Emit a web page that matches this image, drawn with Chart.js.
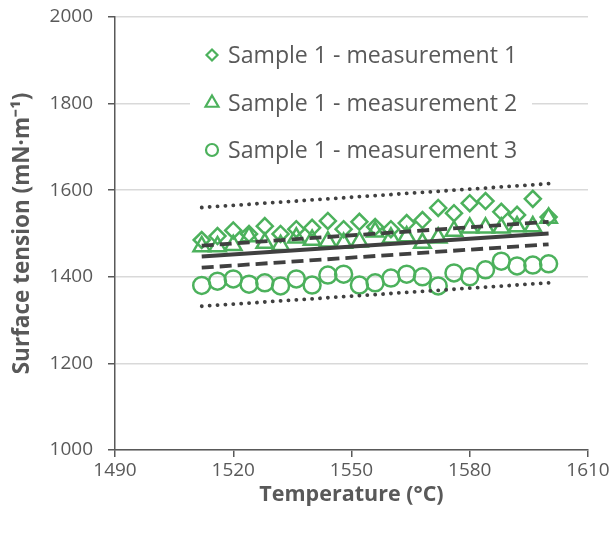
<!DOCTYPE html>
<html>
<head>
<meta charset="utf-8">
<script src="https://cdn.jsdelivr.net/npm/chart.js@4"></script>
<style>
  html, body { margin: 0; padding: 0; background: #fff; }
  #wrap { width: 615px; height: 536px; }
</style>
</head>
<body>
<div id="wrap"><canvas id="myChart" width="615" height="536"></canvas></div>
<script>
// temperatures (°C)
const temps = [1512, 1516, 1520, 1524, 1528, 1532, 1536, 1540, 1544, 1548, 1552, 1556,
               1560, 1564, 1568, 1572, 1576, 1580, 1584, 1588, 1592, 1596, 1600];

// surface tension (mN/m)
const meas1 = [1485, 1494, 1507, 1499, 1517, 1499, 1510, 1513, 1529, 1510, 1527, 1515,
               1510, 1524, 1531, 1559, 1547, 1570, 1575, 1550, 1543, 1580, 1538];
const meas2 = [1470, 1470, 1473, 1493, 1478, 1473, 1490, 1485, 1481, 1478, 1481, 1504,
               1490, 1493, 1478, 1490, 1506, 1513, 1513, 1513, 1516, 1516, 1536];
const meas3 = [1380, 1390, 1395, 1383, 1386, 1379, 1395, 1381, 1404, 1406, 1381, 1386,
               1397, 1406, 1400, 1379, 1409, 1400, 1416, 1436, 1425, 1427, 1430];

// fit line and bands (end points)
const fitT = [1512, 1600];
const fitLine = [1447, 1500];
const confUpper = [1472, 1527];
const confLower = [1421, 1475];
const predUpper = [1560, 1615];
const predLower = [1332, 1386];

const xTicks = [1490, 1520, 1550, 1580, 1610];
const yTicks = [1000, 1200, 1400, 1600, 1800, 2000];

const green = '#4cb15c';
const dark = '#404040';
const textCol = '#595959';
const font = "'Open Sans', sans-serif";

function pts(xs, ys) {
    return xs.map((x, i) => ({ x: x, y: ys[i] }));
}

function lineSet(ys, dash, width) {
    return {
        type: 'line',
        data: pts(fitT, ys),
        borderColor: dark,
        borderWidth: width,
        borderDash: dash,
        borderCapStyle: dash.length && dash[0] < 1 ? 'round' : 'butt',
        pointRadius: 0,
        fill: false,
        order: 0
    };
}

const markers = [
    { label: 'Sample 1 - measurement 1', style: 'rectRot', r: 5.5 },
    { label: 'Sample 1 - measurement 2', style: 'triangle', r: 7.5 },
    { label: 'Sample 1 - measurement 3', style: 'circle', r: 6 }
];

// legend drawn inside the plot area, Excel style
const boxLegend = {
    id: 'boxLegend',
    afterDatasetsDraw(chart) {
        const ctx = chart.ctx;
        ctx.save();
        ctx.fillStyle = '#fff';
        ctx.fillRect(190, 36, 342, 132);
        let size = 18;
        ctx.font = size + 'px ' + font;
        const w = ctx.measureText(markers[0].label).width;
        size = Math.round(size * 289 / w * 10) / 10;
        ctx.font = size + 'px ' + font;
        ctx.textBaseline = 'middle';
        const rows = [55, 103, 150];
        markers.forEach((m, i) => {
            ctx.strokeStyle = green;
            ctx.fillStyle = 'rgba(0,0,0,0)';
            ctx.lineWidth = 2.2;
            Chart.helpers.drawPoint(ctx, { pointStyle: m.style, radius: m.r, borderWidth: 2.2 }, 212, rows[i]);
            ctx.fillStyle = textCol;
            ctx.fillText(m.label, 228, rows[i] + 1);
        });
        ctx.restore();
    }
};

const plain = v => String(v);

const ctx = document.getElementById('myChart').getContext('2d');
new Chart(ctx, {
    type: 'scatter',
    data: {
        datasets: [
            lineSet(predUpper, [0.1, 7.8], 3.8),
            lineSet(predLower, [0.1, 7.8], 3.8),
            lineSet(confUpper, [12, 6], 3.8),
            lineSet(confLower, [12, 6], 3.8),
            lineSet(fitLine, [], 4),
            { label: markers[0].label, data: pts(temps, meas1), pointStyle: 'rectRot', pointRadius: 8,
              borderColor: green, backgroundColor: 'rgba(0,0,0,0)', borderWidth: 2.5, order: 1 },
            { label: markers[1].label, data: pts(temps, meas2), pointStyle: 'triangle', pointRadius: 9.5,
              borderColor: green, backgroundColor: 'rgba(0,0,0,0)', borderWidth: 2.5, order: 1 },
            { label: markers[2].label, data: pts(temps, meas3), pointStyle: 'circle', pointRadius: 8.5,
              borderColor: green, backgroundColor: 'rgba(0,0,0,0)', borderWidth: 2.5, order: 1 }
        ]
    },
    options: {
        responsive: false,
        animation: false,
        layout: { padding: { left: 0, right: 27, top: 17, bottom: 0 } },
        plugins: { legend: { display: false }, tooltip: { enabled: false } },
        scales: {
            x: {
                type: 'linear',
                min: 1490, max: 1610,
                afterBuildTicks: s => { s.ticks = xTicks.map(v => ({ value: v })); },
                afterFit: s => { s.height = 86; s.paddingLeft = 0; s.paddingRight = 0; },
                grid: { drawOnChartArea: false, tickColor: textCol, tickLength: 7, lineWidth: 1.5 },
                border: { color: textCol, width: 1.5 },
                ticks: { color: textCol, font: { family: font, size: 19 }, padding: 2, callback: plain },
                title: { display: true, text: 'Temperature (°C)', color: textCol,
                         font: { family: font, size: 21.5, weight: 'bold' }, padding: { top: 28, bottom: 28 } }
            },
            y: {
                min: 1000, max: 2000,
                afterBuildTicks: s => { s.ticks = yTicks.map(v => ({ value: v })); },
                afterFit: s => { s.width = 115; s.paddingTop = 0; s.paddingBottom = 0; },
                grid: { color: '#d9d9d9', tickColor: textCol, tickLength: 7, lineWidth: 1.5 },
                border: { color: textCol, width: 1.5 },
                ticks: { color: textCol, font: { family: font, size: 19 }, padding: 15, callback: plain },
                title: { display: true, text: 'Surface tension (mN·m⁻¹)', color: textCol,
                         font: { family: font, size: 22.5, weight: 'bold' }, padding: { top: 9, bottom: 9 } }
            }
        }
    },
    plugins: [boxLegend]
});
</script>
</body>
</html>
